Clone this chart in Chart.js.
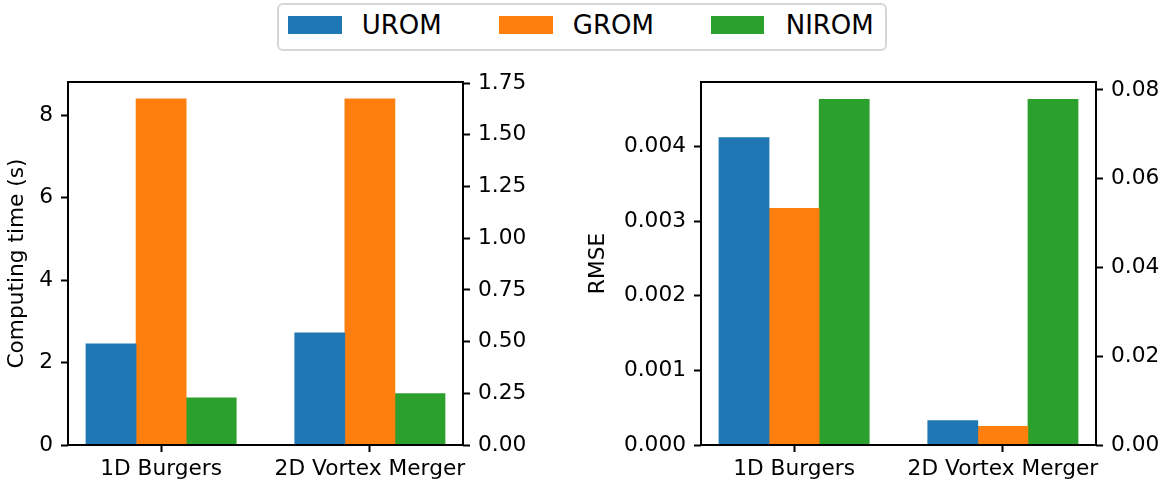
<!DOCTYPE html>
<html>
<head>
<meta charset="utf-8">
<title>ROM comparison: computing time and RMSE</title>
<script src="https://cdn.jsdelivr.net/npm/chart.js@4.4.1/dist/chart.umd.min.js"></script>
<style>
  html, body { margin: 0; padding: 0; background: #fff; }
  body { width: 1169px; height: 487px; position: relative; overflow: hidden; font-family: 'DejaVu Sans', sans-serif; }
  canvas { position: absolute; top: 0; }
  #timeChart { left: 0; }
  #rmseChart { left: 585px; }
  .legend-frame { position: absolute; left: 277px; top: 3px; width: 610px; height: 48px; box-sizing: border-box;
                  border: 2px solid #d6d6d6; border-radius: 6px; background: #fff; }
  .legend-patch { position: absolute; top: 16px; width: 53.4px; height: 18.3px; }
  .legend-label { position: absolute; top: 12.2px; height: 26px; line-height: 26px; font-size: 26px; color: #000; white-space: nowrap; }
</style>
</head>
<body>
<div class="legend-frame"></div>
<div id="legend"></div>
<canvas id="timeChart" width="585" height="487"></canvas>
<canvas id="rmseChart" width="584" height="487"></canvas>
<script>
// Test cases and methods
const CATEGORIES = ['1D Burgers', '2D Vortex Merger'];
const SERIES = ['UROM', 'GROM', 'NIROM'];
const COLORS = ['#1f77b4', '#ff7f0e', '#2ca02c'];

// Computing time (s); NIROM is read on the secondary axis
const TIME_UROM = [2.45, 2.72];
const TIME_GROM = [8.39, 8.39];
const TIME_NIROM = [0.228, 0.248];

// RMSE; NIROM is read on the secondary axis
const RMSE_UROM = [0.00412, 0.000328];
const RMSE_GROM = [0.00317, 0.000251];
const RMSE_NIROM = [0.0779, 0.0779];

// Tick labels
const TIME_TICKS = [0, 2, 4, 6, 8];
const TIME_TICKS_RIGHT = [0, 0.25, 0.5, 0.75, 1.0, 1.25, 1.5, 1.75];
const RMSE_TICKS = [0, 0.001, 0.002, 0.003, 0.004];
const RMSE_TICKS_RIGHT = [0, 0.02, 0.04, 0.06, 0.08];

// Axis limits
const TIME_MAX = 8.80;
const TIME_MAX_RIGHT = 1.755;
const RMSE_MAX = 0.004864;
const RMSE_MAX_RIGHT = 0.0818;

// Group layout in category units
const BAR_W = 0.24;
const X_MIN = -1.5 * BAR_W - 0.05 * (1 + 3 * BAR_W);
const X_MAX = 1 + 1.5 * BAR_W + 0.05 * (1 + 3 * BAR_W);

const FONT = "'DejaVu Sans'";
const TICK_SIZE = 21.7;
Chart.defaults.font.family = FONT;
Chart.defaults.color = '#000';

// Legend built from the series list
const legend = document.getElementById('legend');
const patchX = [288.3, 499.3, 711];
const labelX = [361.7, 572.8, 785.7];
SERIES.forEach((name, j) => {
  const p = document.createElement('div');
  p.className = 'legend-patch';
  p.style.left = patchX[j] + 'px';
  p.style.background = COLORS[j];
  legend.appendChild(p);
  const t = document.createElement('div');
  t.className = 'legend-label';
  t.style.left = labelX[j] + 'px';
  t.textContent = name;
  legend.appendChild(t);
});

// Closed black frame around the plotting area
const framePlugin = {
  id: 'frame',
  afterDraw(chart) {
    const { ctx, chartArea: a } = chart;
    ctx.save();
    ctx.strokeStyle = '#000';
    ctx.lineWidth = 2;
    ctx.strokeRect(a.left, a.top, a.right - a.left, a.bottom - a.top);
    ctx.restore();
  }
};

function barSeries(values, j, axis) {
  return {
    label: SERIES[j],
    data: values.map((v, i) => ({ x: i + (j - 1) * BAR_W, y: v })),
    backgroundColor: COLORS[j],
    borderWidth: 0,
    grouped: false,
    categoryPercentage: 1,
    barPercentage: 1,
    yAxisID: axis
  };
}

function tickGrid() {
  return { offset: false, drawOnChartArea: false, drawTicks: true, tickLength: 7, tickWidth: 2, tickColor: '#000' };
}

function makeChart(id, sets, cfg) {
  return new Chart(document.getElementById(id), {
    type: 'bar',
    data: { datasets: sets },
    options: {
      responsive: false,
      animation: false,
      events: [],
      layout: { padding: { top: 82, left: 0, right: 0, bottom: 0 } },
      plugins: { legend: { display: false }, tooltip: { enabled: false } },
      scales: {
        x: {
          type: 'linear',
          offset: false,
          min: X_MIN, max: X_MAX,
          grid: tickGrid(),
          border: { display: false },
          afterBuildTicks: s => { s.ticks = CATEGORIES.map((_, i) => ({ value: i })); },
          afterFit: s => { s.height = 42; },
          ticks: {
            padding: 4,
            maxRotation: 0,
            autoSkip: false,
            font: { size: TICK_SIZE },
            callback: v => CATEGORIES[Math.round(v)]
          }
        },
        y: {
          position: 'left',
          min: 0, max: cfg.leftMax,
          grid: tickGrid(),
          border: { display: false },
          afterBuildTicks: s => { s.ticks = cfg.leftTicks.map(v => ({ value: v })); },
          afterFit: s => { s.width = cfg.leftWidth; },
          title: { display: true, text: cfg.title, padding: 0, font: { size: TICK_SIZE, lineHeight: cfg.titleLine } },
          ticks: { padding: 8, font: { size: TICK_SIZE }, callback: v => cfg.leftFmt(v) }
        },
        y2: {
          position: 'right',
          min: 0, max: cfg.rightMax,
          grid: tickGrid(),
          border: { display: false },
          afterBuildTicks: s => { s.ticks = cfg.rightTicks.map(v => ({ value: v })); },
          afterFit: s => { s.width = cfg.rightWidth; },
          ticks: { padding: 8, font: { size: TICK_SIZE }, callback: v => cfg.rightFmt(v) }
        }
      }
    },
    plugins: [framePlugin]
  });
}

makeChart('timeChart', [
  barSeries(TIME_UROM, 0, 'y'),
  barSeries(TIME_GROM, 1, 'y'),
  barSeries(TIME_NIROM, 2, 'y2')
], {
  title: 'Computing time (s)', titleLine: '34px',
  leftMax: TIME_MAX, leftTicks: TIME_TICKS, leftFmt: v => String(v),
  rightMax: TIME_MAX_RIGHT, rightTicks: TIME_TICKS_RIGHT, rightFmt: v => v.toFixed(2),
  leftWidth: 68, rightWidth: 122
});

makeChart('rmseChart', [
  barSeries(RMSE_UROM, 0, 'y'),
  barSeries(RMSE_GROM, 1, 'y'),
  barSeries(RMSE_NIROM, 2, 'y2')
], {
  title: 'RMSE', titleLine: '26px',
  leftMax: RMSE_MAX, leftTicks: RMSE_TICKS, leftFmt: v => v.toFixed(3),
  rightMax: RMSE_MAX_RIGHT, rightTicks: RMSE_TICKS_RIGHT, rightFmt: v => v.toFixed(2),
  leftWidth: 116, rightWidth: 73
});
</script>
</body>
</html>
